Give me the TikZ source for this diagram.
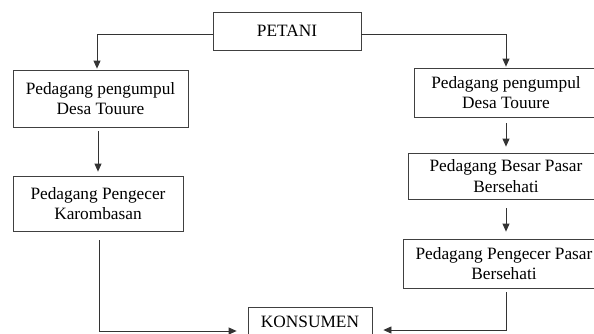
\documentclass[tikz,border=0pt]{standalone}
\usepackage{fontspec}
\setmainfont{Liberation Serif}
\usetikzlibrary{arrows.meta}
\begin{document}
\begin{tikzpicture}[x=1pt,y=-1pt,
  box/.style={draw=black!75,line width=0.8pt,rectangle,inner sep=0pt,align=center,
    font=\fontsize{17.3}{20.5}\selectfont},
  conn/.style={draw=black!80,line width=0.8pt},
  arr/.style={conn,-{Triangle[length=8pt,width=7pt]}}]
\useasboundingbox (0,0) rectangle (594,333);
\clip (0,0) rectangle (594,333);
\node[box,minimum width=148pt,minimum height=38pt] (P) at (287,31) {PETANI};
\node[box,minimum width=175pt,minimum height=57pt] (L1) at (100.5,98.5) {Pedagang pengumpul\\Desa Touure};
\node[box,minimum width=170pt,minimum height=55pt] (L2) at (98,203.5) {Pedagang Pengecer\\Karombasan};
\node[box,minimum width=184pt,minimum height=49pt] (R1) at (506,92.5) {Pedagang pengumpul\\Desa Touure};
\node[box,minimum width=196pt,minimum height=46pt] (R2) at (506,176) {Pedagang Besar Pasar\\Bersehati};
\node[box,minimum width=202pt,minimum height=49pt] (R3) at (504,263.5) {Pedagang Pengecer Pasar\\Bersehati};
\node[box,minimum width=124pt,minimum height=30pt] (K) at (310,322) {KONSUMEN};
\coordinate (l1top) at ([xshift=-3.5pt,yshift=1pt]L1.north);
\coordinate (l1bot) at ([xshift=-2.5pt,yshift=-4pt]L1.south);
\coordinate (r2bot) at ([yshift=-9pt]R2.south);
\coordinate (lc) at (98,331);
\coordinate (rc) at (506,330);
\draw[arr] ([yshift=-3pt]P.west) -| (l1top);
\draw[arr] ([yshift=-3pt]P.east) -| ([yshift=1pt]R1.north);
\draw[arr] (l1bot) -- ([yshift=4pt]L2.north -| l1bot);
\draw[arr] ([yshift=-6pt]R1.south) -- ([yshift=6pt]R2.north);
\draw[arr] (r2bot) -- ([yshift=7pt]R3.north -| r2bot);
\draw[arr] ([xshift=1pt,yshift=-9pt]L2.south) |- ([xshift=-11pt]K.west |- lc);
\draw[arr] ([xshift=2pt,yshift=-4pt]R3.south) |- ([xshift=11pt]K.east |- rc);
\end{tikzpicture}
\end{document}
